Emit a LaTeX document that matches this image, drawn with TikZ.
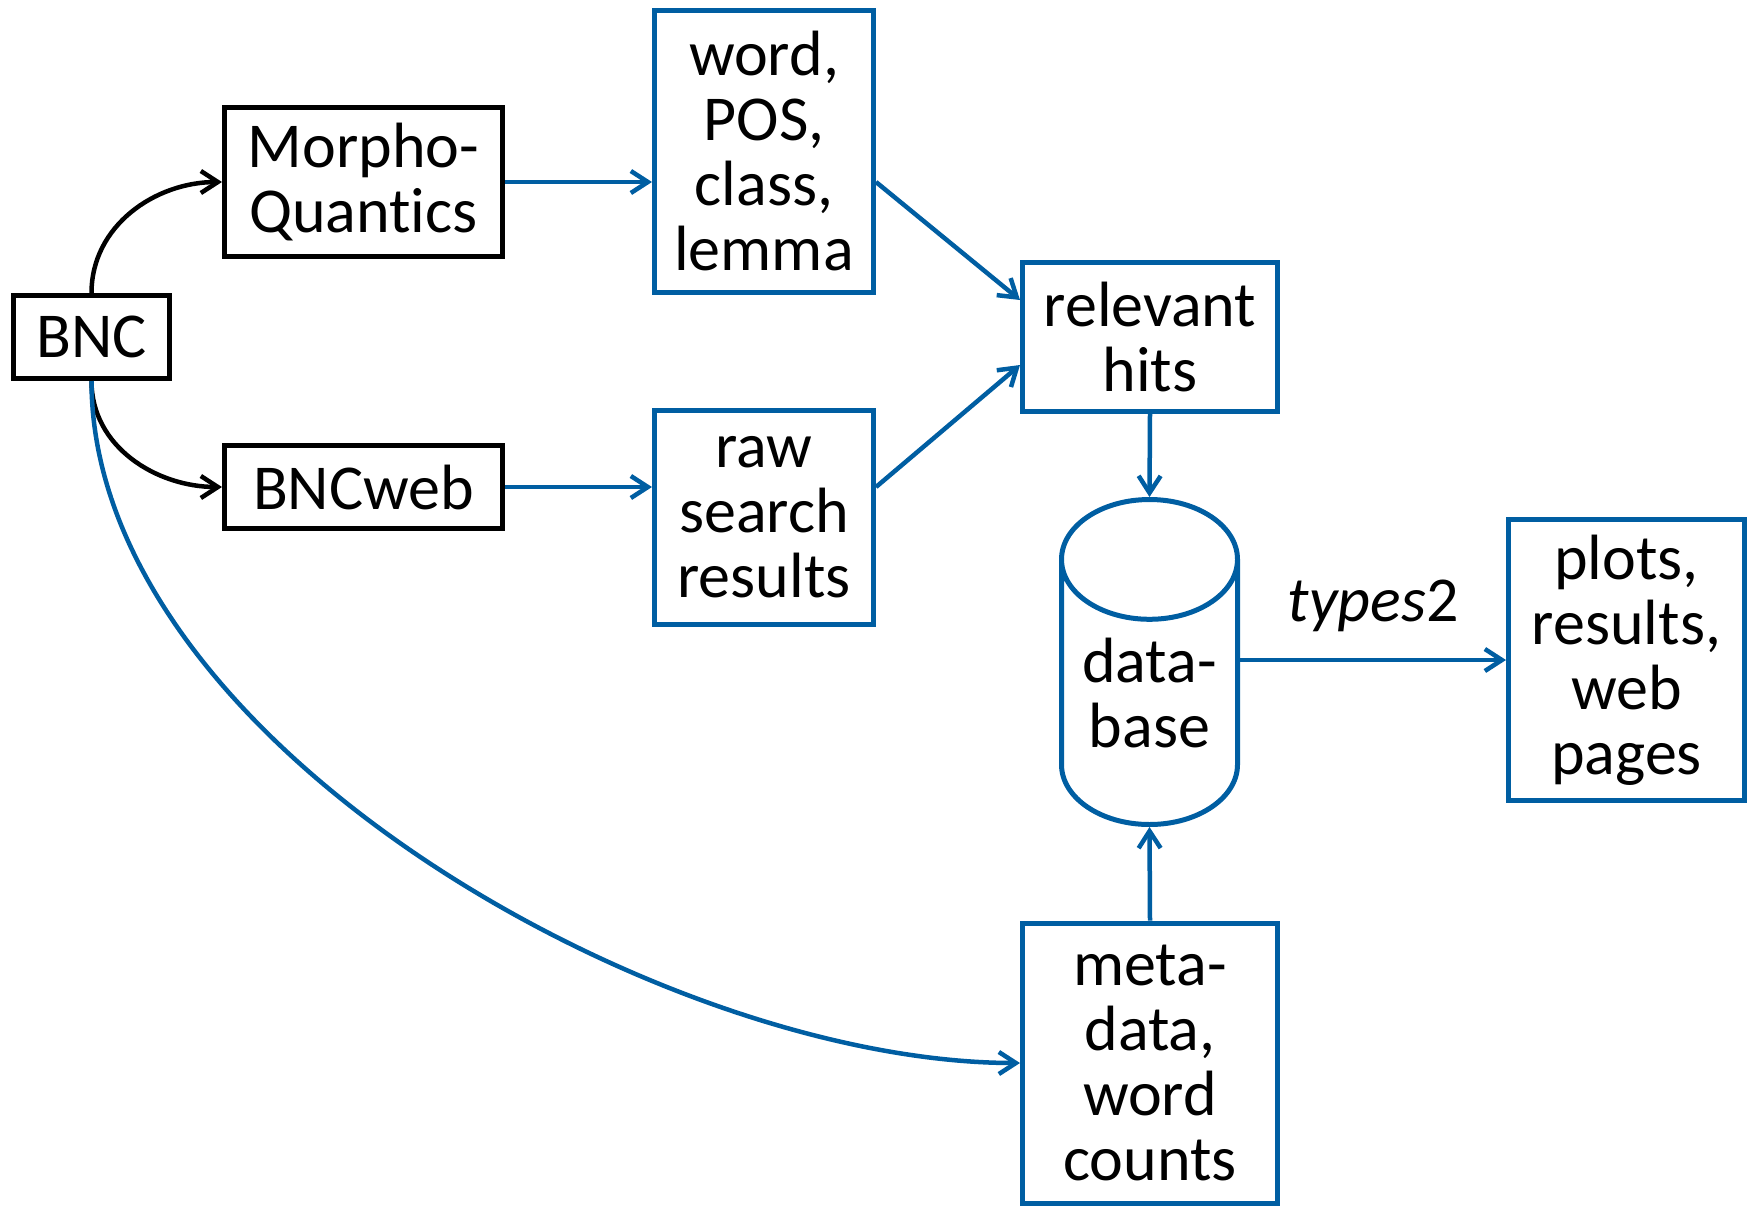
\documentclass[tikz,border=0pt]{standalone}
\usepackage{fontspec}
\setmainfont{Carlito}[Ligatures=NoCommon]
\usetikzlibrary{arrows.meta, shapes.geometric}
\definecolor{bncblue}{RGB}{0,94,162}

\begin{document}
\begin{tikzpicture}[x=1pt, y=-1pt,
    box/.style={draw, line width=5pt, inner sep=0pt, align=center, font=\fontsize{64}{65}\selectfont},
    bluebox/.style={box, draw=bncblue},
    link/.style={line width=4.5pt, -{Straight Barb[length=17pt,width=22pt]}},
    bluelink/.style={link, draw=bncblue}]
    \useasboundingbox (0,0) rectangle (1756,1208);

    \node[box, minimum width=156, minimum height=83] (bnc) at (91.5,337) {BNC};
    \node[box, minimum width=278, minimum height=149] (mq) at (363.5,182) {Morpho-\\Quantics};
    \node[box, minimum width=278, minimum height=83] (web) at (363.5,487) {BNCweb};
    \node[bluebox, minimum width=219, minimum height=282] (tags) at (764,151.5) {word,\\POS,\\class,\\lemma};
    \node[bluebox, minimum width=219, minimum height=214] (raw) at (764,517.5) {raw\\search\\results};
    \node[bluebox, minimum width=255, minimum height=149] (hits) at (1150,337) {relevant\\hits};
    \node[bluebox, cylinder, shape border rotate=90, aspect=0.89,
        minimum width=176, minimum height=325, anchor=north] (db) at (1149.5,497) {data-\\base};
    \node[bluebox, minimum width=236, minimum height=281] (plots) at (1626.5,660) {plots,\\results,\\web\\pages};
    \node[bluebox, minimum width=255, minimum height=280] (meta) at (1150,1063) {meta-\\data,\\word\\counts};

    \draw[link] (bnc.north) to[out=90, in=180] (mq.west);
    \draw[link] (bnc.south) to[out=-90, in=180] (web.west);
    \draw[bluelink] (bnc.south) to[out=-90, in=180, looseness=0.8] (meta.west);
    \draw[bluelink] (mq.east) -- (mq.east -| tags.west);
    \draw[bluelink] (web.east) -- (web.east -| raw.west);
    \draw[bluelink] (tags.east |- mq.east) -- ([yshift=37pt]hits.west);
    \draw[bluelink] (raw.east |- web.east) -- ([yshift=-28pt]hits.west);
    \draw[bluelink] (hits.south) -- (db.north);
    \draw[bluelink] (meta.north) -- (db.south);
    \draw[bluelink] (db.east |- plots.west) -- node[midway, above=26pt, inner sep=0pt, font=\fontsize{64}{65}\selectfont] (lbl) {\textit{types}2} (plots.west);
\end{tikzpicture}
\end{document}
